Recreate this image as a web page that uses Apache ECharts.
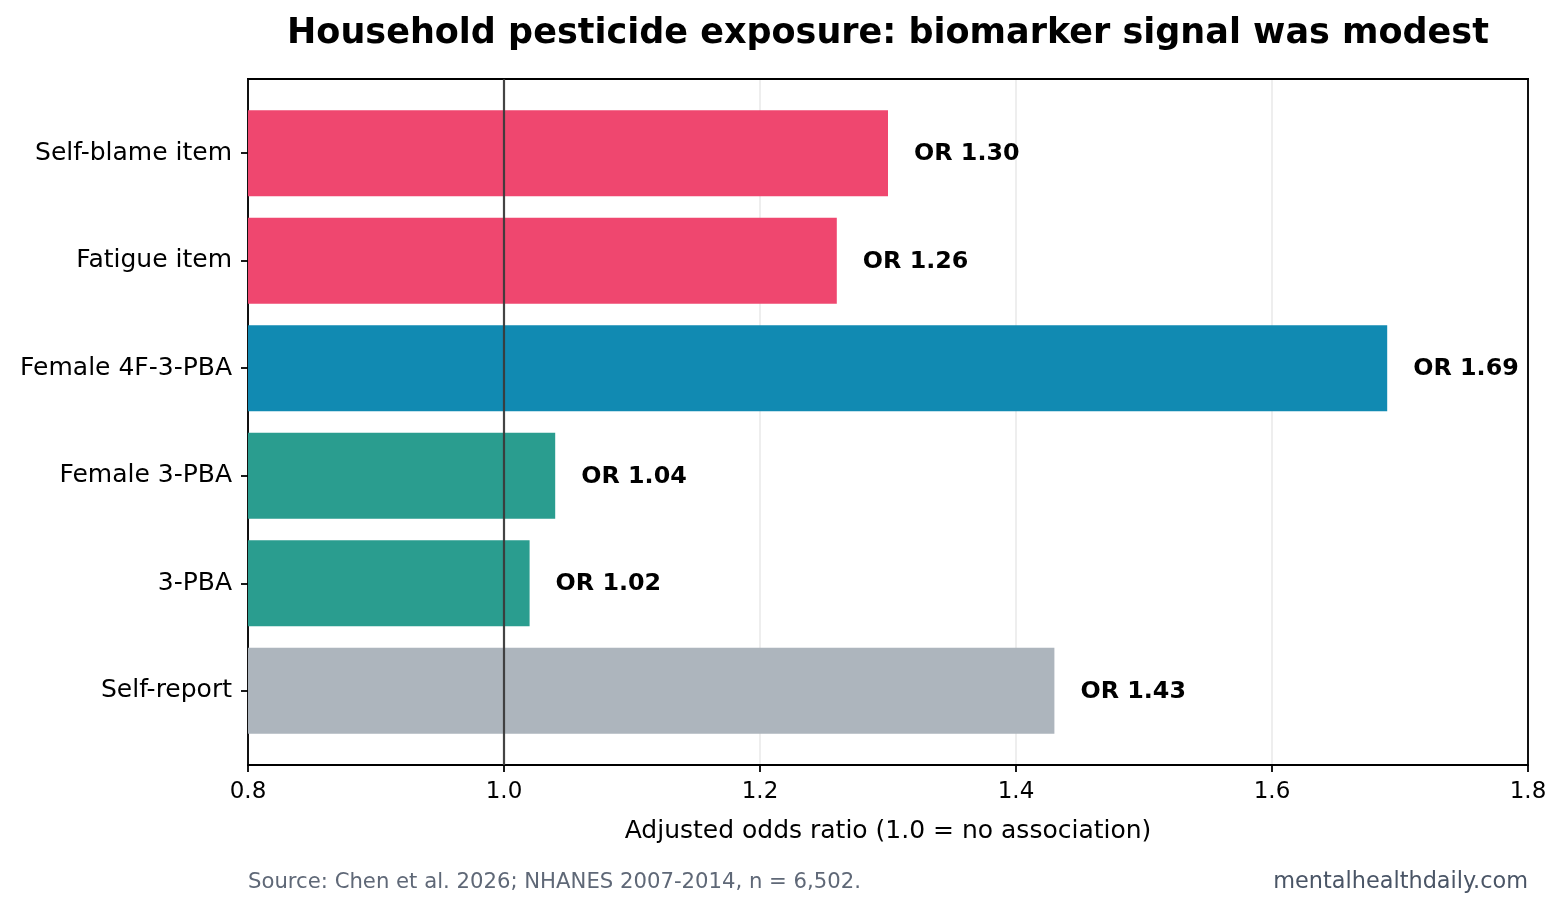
<!DOCTYPE html>
<html>
<head>
<meta charset="utf-8">
<script src="https://cdn.jsdelivr.net/npm/echarts@6/dist/echarts.min.js"></script>
<style>html,body{margin:0;padding:0;background:#fff}#c{width:1565px;height:911px}</style>
</head>
<body>
<div id="c"></div>
<script>
const categories = ['Self-blame item', 'Fatigue item', 'Female 4F-3-PBA', 'Female 3-PBA', '3-PBA', 'Self-report'];
const oddsRatios = [1.30, 1.26, 1.69, 1.04, 1.02, 1.43];
const groups = ['symptom', 'symptom', 'biomarker4F', 'biomarker', 'biomarker', 'self'];
const xTicks = [0.8, 1.0, 1.2, 1.4, 1.6, 1.8];
const referenceOR = 1.0;

const groupColors = { symptom: '#EF476F', biomarker4F: '#118AB2', biomarker: '#2A9D8F', self: '#ADB5BD' };
const FONT = 'DejaVu Sans';
const BAR_H = 0.8;
const PAD = (categories.length - 1 + BAR_H) * 0.05;
const catIdx = categories.map((_, i) => i);
const yMin = -0.4 - PAD, yMax = categories.length - 1 + 0.4 + PAD;

const chart = echarts.init(document.getElementById('c'), null, { renderer: 'canvas' });
chart.setOption({
  animation: false,
  backgroundColor: '#fff',
  textStyle: { fontFamily: FONT },
  grid: { left: 248, right: 37, top: 79, bottom: 146, show: true, borderColor: '#000', borderWidth: 2, backgroundColor: 'transparent' },
  xAxis: [{
    type: 'value', min: xTicks[0], max: xTicks[xTicks.length - 1], interval: 0.2,
    axisLine: { show: true, onZero: false, lineStyle: { color: '#000', width: 1.8 } },
    axisTick: { show: true, length: 7, lineStyle: { color: '#000', width: 1.8 } },
    axisLabel: { color: '#000', fontSize: 23, fontFamily: FONT, margin: 16, formatter: v => v.toFixed(1) },
    splitLine: { show: true, lineStyle: { color: '#e8e8e8', width: 1.5 } },
    name: 'Adjusted odds ratio (1.0 = no association)', nameLocation: 'middle', nameGap: 54,
    nameTextStyle: { color: '#000', fontSize: 25, fontFamily: FONT }
  }, {
    type: 'value', position: 'top', min: xTicks[0], max: xTicks[xTicks.length - 1], interval: 0.2,
    axisLine: { show: true, onZero: false, lineStyle: { color: '#000', width: 1.8 } },
    axisTick: { show: false }, axisLabel: { show: false }, splitLine: { show: false }
  }],
  yAxis: [{
    type: 'value', inverse: true, min: yMin, max: yMax,
    axisLine: { show: true, onZero: false, lineStyle: { color: '#000', width: 1.8 } },
    axisTick: { show: true, length: 7, customValues: catIdx, lineStyle: { color: '#000', width: 1.8 } },
    axisLabel: { color: '#000', fontSize: 25, fontFamily: FONT, margin: 16, customValues: catIdx, formatter: v => categories[Math.round(v)] },
    splitLine: { show: false }
  }, {
    type: 'value', position: 'right', inverse: true, min: yMin, max: yMax,
    axisLine: { show: true, onZero: false, lineStyle: { color: '#000', width: 1.8 } },
    axisTick: { show: false }, axisLabel: { show: false }, splitLine: { show: false }
  }],
  series: [{
    type: 'custom',
    xAxisIndex: 0, yAxisIndex: 0,
    data: oddsRatios.map((v, i) => [i, v]),
    encode: { x: 1, y: 0 },
    renderItem: function (params, api) {
      const i = api.value(0), v = api.value(1);
      const start = api.coord([xTicks[0], i]);
      const end = api.coord([v, i]);
      const h = Math.abs(api.size([0, BAR_H])[1]);
      return {
        type: 'group',
        children: [
          { type: 'rect', shape: { x: start[0], y: start[1] - h / 2, width: end[0] - start[0], height: h },
            style: { fill: groupColors[groups[i]] } },
          { type: 'text', x: end[0] + 26, y: end[1] + 1,
            style: { text: 'OR ' + v.toFixed(2), fill: '#000', font: 'bold 23.8px "DejaVu Sans"', align: 'left', verticalAlign: 'middle' } }
        ]
      };
    },
    markLine: {
      silent: true, symbol: 'none', label: { show: false }, z: 10,
      lineStyle: { color: '#3a3a3a', width: 2.2, type: 'solid', opacity: 0.95 },
      data: [{ xAxis: referenceOR }]
    },
    z: 2
  }],
  graphic: [
    { type: 'text', x: 888, y: 34, style: { text: 'Household pesticide exposure: biomarker signal was modest', fill: '#000', font: 'bold 35px "DejaVu Sans"', align: 'center', verticalAlign: 'middle' } },
    { type: 'text', x: 248, y: 882, style: { text: 'Source: Chen et al. 2026; NHANES 2007-2014, n = 6,502.', fill: '#5f6877', font: '21.2px "DejaVu Sans"', align: 'left', verticalAlign: 'middle' } },
    { type: 'text', x: 1528, y: 882, style: { text: 'mentalhealthdaily.com', fill: '#4a5566', font: '22.4px "DejaVu Sans"', align: 'right', verticalAlign: 'middle' } }
  ]
});
</script>
</body>
</html>
